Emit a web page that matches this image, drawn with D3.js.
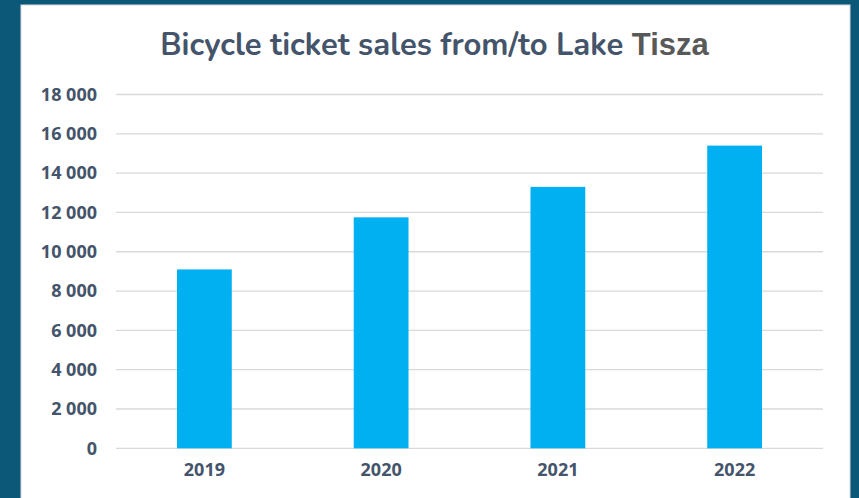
<!DOCTYPE html>
<html>
<head>
<meta charset="utf-8">
<script src="https://cdn.jsdelivr.net/npm/d3@7"></script>
<style>
  html, body { margin: 0; padding: 0; background: #0b5878; }
  svg { display: block; }
</style>
</head>
<body>
<svg id="chart" width="859" height="498"></svg>
<script>
const years = ['2019', '2020', '2021', '2022'];
const sales = [9100, 11750, 13300, 15400];
const yTicks = [0, 2000, 4000, 6000, 8000, 10000, 12000, 14000, 16000, 18000];

const margin = { top: 94.5, right: 36, bottom: 50, left: 116 };

const svg = d3.select('#chart');

// white card
svg.append('rect')
    .attr('x', 21)
    .attr('y', 5)
    .attr('width', 829)
    .attr('height', 510)
    .attr('fill', '#ffffff')
    .attr('stroke', '#d9d9d9')
    .attr('stroke-width', 1);

const title = svg.append('text')
    .attr('x', 434.5)
    .attr('y', 55)
    .attr('text-anchor', 'middle')
    .style('font-family', 'Nunito, "Open Sans", sans-serif')
    .style('font-weight', 700)
    .style('font-size', '31px')
    .attr('fill', '#44546a');
title.append('tspan').text('Bicycle ticket sales from/to Lake ');
title.append('tspan')
    .attr('fill', '#595959')
    .style('font-family', '"Liberation Sans", sans-serif')
    .text('Tisza');

const x = d3.scaleBand()
    .domain(years)
    .range([margin.left, 823])
    .paddingInner(0.69)
    .paddingOuter(0.345);

const y = d3.scaleLinear()
    .domain([0, 18000])
    .range([448.3, margin.top]);

// gridlines
svg.append('g')
    .selectAll('line')
    .data(yTicks)
    .enter()
    .append('line')
    .attr('x1', margin.left)
    .attr('x2', 823)
    .attr('y1', (d) => y(d))
    .attr('y2', (d) => y(d))
    .attr('stroke', '#d9d9d9')
    .attr('stroke-width', 1.3);

const fmt = (d) => d3.format(',')(d).replace(/,/g, ' ');

const yAxis = svg.append('g')
    .attr('transform', 'translate(97,0)')
    .call(d3.axisLeft(y).tickValues(yTicks).tickFormat(fmt).tickSize(0).tickPadding(0));
yAxis.select('.domain').remove();
yAxis.selectAll('text')
    .style('font-family', '"Open Sans", sans-serif')
    .style('font-weight', 700)
    .style('font-size', '18px')
    .attr('fill', '#44546a');

svg.append('g')
    .selectAll('rect')
    .data(sales)
    .enter()
    .append('rect')
    .attr('x', (d, i) => x(years[i]))
    .attr('y', (d) => y(d))
    .attr('width', x.bandwidth())
    .attr('height', (d) => y(0) - y(d))
    .attr('fill', '#00b0f0');

const xAxis = svg.append('g')
    .attr('transform', 'translate(0,448.3)')
    .call(d3.axisBottom(x).tickSize(0).tickPadding(15));
xAxis.select('.domain').remove();
xAxis.selectAll('text')
    .style('font-family', '"Open Sans", sans-serif')
    .style('font-weight', 700)
    .style('font-size', '18px')
    .attr('fill', '#44546a');
</script>
</body>
</html>
